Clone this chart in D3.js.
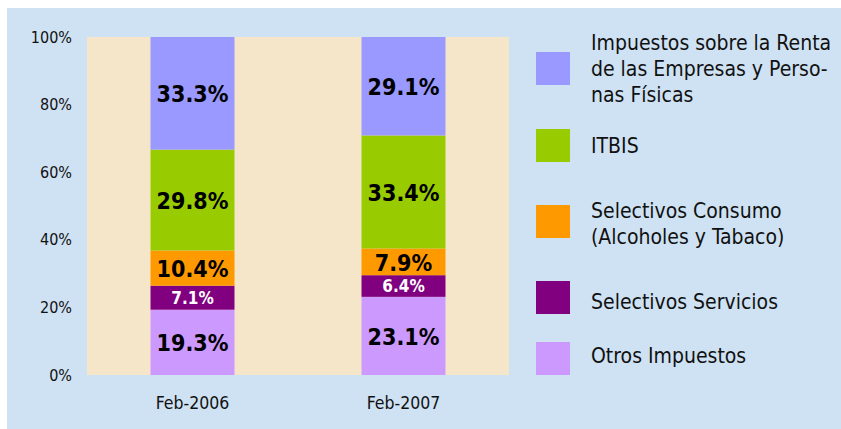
<!DOCTYPE html>
<html lang="es">
<head>
<meta charset="utf-8">
<title>Recaudación por impuesto</title>
<script src="https://d3js.org/d3.v7.min.js"></script>
<style>
  body { margin: 0; background: #fff; }
  text { font-family: "DejaVu Sans Condensed", "DejaVu Sans", Verdana, sans-serif; font-stretch: condensed; fill: #111; }
</style>
</head>
<body>
<div id="chart"></div>
<script>

// Data (percentages, bottom to top of each stack)
var categories = ["Feb-2006", "Feb-2007"];
var seriesKeys = ["otros", "servicios", "consumo", "itbis", "renta"];
var otros     = [19.3, 23.1];
var servicios = [7.1, 6.4];
var consumo   = [10.4, 7.9];
var itbis     = [29.8, 33.4];
var renta     = [33.3, 29.1];
var tickValues = [0, 0.2, 0.4, 0.6, 0.8, 1];
var tickLabels = ["0%", "20%", "40%", "60%", "80%", "100%"];

// legend order is top to bottom as in the picture
var legendKeys = ["renta", "itbis", "consumo", "servicios", "otros"];
var legendLabels = [
  ["Impuestos sobre la Renta", "de las Empresas y Perso-", "nas Físicas"],
  ["ITBIS"],
  ["Selectivos Consumo", "(Alcoholes y Tabaco)"],
  ["Selectivos Servicios"],
  ["Otros Impuestos"]
];

var colors = {
  renta: "#9999ff", itbis: "#99cc00", consumo: "#ff9900",
  servicios: "#800080", otros: "#cc99ff"
};

var FONT = "'DejaVu Sans Condensed', 'DejaVu Sans', Verdana, sans-serif";
var width = 841, height = 429;
var plot = { left: 87, right: 509, top: 37, bottom: 375 };

var svg = d3.select("#chart").append("svg")
  .attr("width", width)
  .attr("height", height);

// blue panel
svg.append("rect")
  .attr("x", 7).attr("y", 8)
  .attr("width", width - 7).attr("height", height - 8)
  .attr("fill", "#cfe2f3");

// plot background
svg.append("rect")
  .attr("x", plot.left).attr("y", plot.top)
  .attr("width", plot.right - plot.left)
  .attr("height", plot.bottom - plot.top)
  .attr("fill", "#f5e6c9");

var table = categories.map(function(c, i) {
  return { cat: c, otros: otros[i], servicios: servicios[i], consumo: consumo[i],
           itbis: itbis[i], renta: renta[i] };
});

var stack = d3.stack().keys(seriesKeys).offset(d3.stackOffsetExpand);
var layers = stack(table);

var x = d3.scaleBand()
  .domain(categories)
  .range([plot.left, plot.right])
  .paddingInner(0.602)
  .paddingOuter(0.301);

var y = d3.scaleLinear()
  .domain([0, 1])
  .range([plot.bottom, plot.top]);

// bars
var layer = svg.append("g").selectAll("g")
  .data(layers)
  .enter().append("g")
  .attr("fill", function(d) { return colors[d.key]; });

layer.selectAll("rect")
  .data(function(d) { return d; })
  .enter().append("rect")
  .attr("x", function(d) { return x(d.data.cat); })
  .attr("y", function(d) { return y(d[1]); })
  .attr("width", x.bandwidth())
  .attr("height", function(d) { return y(d[0]) - y(d[1]); });

// value labels
layer.each(function(L) {
  var small = L.key === "servicios";
  d3.select(this).selectAll("text")
    .data(L)
    .enter().append("text")
    .attr("x", function(d) { return x(d.data.cat) + x.bandwidth() / 2; })
    .attr("y", function(d) { return (y(d[0]) + y(d[1])) / 2; })
    .attr("dy", "0.38em")
    .attr("text-anchor", "middle")
    .style("font-weight", "bold")
    .style("font-size", small ? "17px" : "23px")
    .style("fill", small ? "#ffffff" : "#000000")
    .text(function(d) { return d.data[L.key].toFixed(1) + "%"; });
});

// y axis
var yAxis = svg.append("g")
  .attr("transform", "translate(" + plot.left + ",0)")
  .call(d3.axisLeft(y)
    .tickValues(tickValues)
    .tickFormat(function(d, i) { return tickLabels[i]; })
    .tickSize(0)
    .tickPadding(15));
yAxis.select(".domain").remove();
yAxis.selectAll("text")
  .style("font-size", "16px")
  .style("font-family", FONT)
  .attr("fill", "#111");

// x axis
var xAxis = svg.append("g")
  .attr("transform", "translate(0," + plot.bottom + ")")
  .call(d3.axisBottom(x).tickSize(0).tickPadding(22));
xAxis.select(".domain").remove();
xAxis.selectAll("text")
  .style("font-size", "17.5px")
  .style("font-family", FONT)
  .attr("fill", "#111");

// legend (swatch tops, text baselines)
var swatchTop = [52, 129, 205, 281, 342];
var textTop = [50, 153, 218, 309, 363];
var legend = svg.append("g").selectAll("g")
  .data(legendKeys)
  .enter().append("g");

legend.append("rect")
  .attr("x", 536)
  .attr("y", function(d, i) { return swatchTop[i]; })
  .attr("width", 34).attr("height", 33)
  .attr("fill", function(d) { return colors[d]; });

legend.append("text")
  .attr("x", 591)
  .attr("y", function(d, i) { return textTop[i]; })
  .style("font-size", "21px")
  .each(function(d, i) {
    var t = d3.select(this);
    legendLabels[i].forEach(function(line, j) {
      t.append("tspan")
        .attr("x", 591)
        .attr("dy", j === 0 ? 0 : 26)
        .text(line);
    });
  });

</script>
</body>
</html>
